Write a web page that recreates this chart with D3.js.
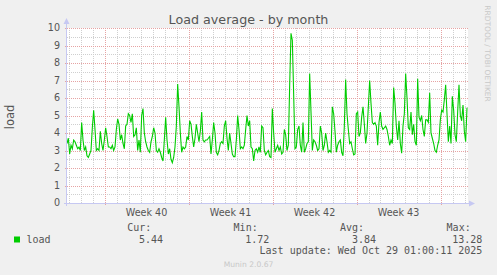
<!DOCTYPE html>
<html>
<head>
<meta charset="utf-8">
<script src="https://cdn.jsdelivr.net/npm/d3@7"></script>
<style>
    body { margin: 0; background: #f0f0f0; }
    svg { display: block; }
    .sans { font-family: 'DejaVu Sans', sans-serif; }
    .mono { font-family: 'DejaVu Sans Mono', monospace; }
</style>
</head>
<body>
<div id="vis"></div>
<script>
'use strict';

//first and last sample of the series, 160 min apart
var firstSample = Date.UTC(2025, 8, 25, 21, 0);
var lastSample = Date.UTC(2025, 9, 29, 5, 0);

//load average
var loadWeek39 = [3.4, 3.7, 2.8, 3.3, 3.1, 3.6, 3.5, 3.3, 3.1, 3.2, 3.0, 4.6, 3.6, 3.0, 3.2, 2.7, 2.6,
    2.8, 3.0, 4.3, 5.3, 4.2, 3.0, 3.1, 3.0, 4.1, 3.4, 3.0, 3.6, 4.3, 3.8, 3.2, 3.2, 3.1, 3.3, 3.0,
    3.2, 4.2, 4.8, 4.5, 3.6, 3.9, 3.4, 3.1, 4.4, 4.5, 5.1, 5.0, 4.6, 5.1, 3.8];
var loadWeek40 = [3.9, 4.3, 3.0, 3.6, 2.9, 5.0, 5.4, 4.0, 3.5, 3.2, 3.0, 2.9, 3.5, 3.8, 4.3, 4.0, 3.0,
    2.9, 3.1, 2.9, 2.6, 2.4, 3.6, 4.9, 3.6, 2.8, 3.1, 2.5, 2.3, 2.6, 3.2, 4.4, 6.8, 5.5, 4.0, 2.9,
    3.2, 3.1, 3.2, 3.8, 3.6, 4.7, 4.5, 3.8, 3.2, 3.7, 4.5, 4.0, 3.5, 4.1, 5.2];
var loadWeek41 = [3.6, 3.5, 3.6, 3.6, 3.7, 3.8, 2.8, 3.6, 4.6, 4.0, 2.9, 2.75, 3.0, 3.4, 3.5, 3.4, 4.4,
    4.7, 3.7, 3.0, 4.0, 3.4, 2.8, 2.65, 2.65, 3.6, 5.0, 4.2, 3.1, 3.2, 3.1, 3.3, 4.2, 5.0, 4.4, 4.7,
    3.2, 3.1, 2.4, 3.0, 3.1, 2.9, 3.2, 2.9, 4.4, 4.3, 3.0, 2.75, 2.9, 3.0, 2.65];
var loadWeek42 = [2.6, 5.4, 4.0, 2.9, 3.1, 3.3, 3.0, 3.2, 2.8, 2.9, 4.2, 3.9, 3.0, 3.3, 6.7, 9.7, 9.3,
    6.2, 3.1, 3.2, 4.2, 4.4, 3.3, 2.9, 4.6, 2.9, 3.1, 3.4, 3.5, 7.4, 5.2, 3.0, 3.6, 3.5, 3.3, 3.0,
    3.1, 4.4, 4.0, 3.0, 3.3, 4.0, 3.5, 2.9, 3.0, 2.9, 5.5, 5.1, 4.1, 2.9, 3.3];
var loadWeek43 = [3.5, 3.6, 2.9, 2.7, 4.4, 7.05, 5.1, 4.2, 3.4, 3.5, 3.1, 2.75, 2.8, 5.1, 5.2, 3.8, 4.0,
    4.9, 5.5, 4.5, 3.4, 4.0, 5.5, 7.0, 5.7, 4.6, 4.5, 4.6, 4.4, 3.3, 4.6, 5.2, 4.4, 4.2, 4.3, 4.4,
    4.2, 3.8, 3.3, 3.6, 3.4, 6.6, 5.7, 4.4, 3.6, 4.7, 3.4, 2.85, 4.4, 5.1, 7.4];
var loadWeek44 = [6.0, 4.3, 4.2, 5.2, 3.9, 4.5, 3.5, 3.3, 7.1, 4.9, 4.7, 5.0, 4.2, 3.8, 4.75, 4.75, 4.6,
    6.3, 4.0, 3.7, 3.4, 3.0, 2.9, 3.3, 3.6, 4.75, 5.3, 5.2, 5.9, 6.75, 5.1, 3.5, 4.4, 3.4, 6.1, 5.3,
    3.9, 3.5, 5.2, 6.75, 5.0, 4.7, 5.6, 4.1, 3.5, 5.44];

//axis labels and legend
var weekLabels = ['Week 40', 'Week 41', 'Week 42', 'Week 43'];
var weekStarts = [Date.UTC(2025, 8, 29), Date.UTC(2025, 9, 6), Date.UTC(2025, 9, 13), Date.UTC(2025, 9, 20)];
var yTicks = [0, 1, 2, 3, 4, 5, 6, 7, 8, 9, 10];
var legendHeads = ['Cur:', 'Min:', 'Avg:', 'Max:'];
var legendValues = ['5.44', '1.72', '3.84', '13.28'];

//layout
var width = 497, height = 275;
var plot = { left: 67, right: 467, top: 28, bottom: 203 };
var colors = {
    bg: '#f0f0f0', text: '#555555', faint: '#c8c8c8', line: '#00cc00',
    major: '#e6a3a3', minor: '#cfcfcf', axis: '#c6c8f2'
};

var loadValues = [].concat(loadWeek39, loadWeek40, loadWeek41, loadWeek42, loadWeek43, loadWeek44);
var step = (lastSample - firstSample) / (loadValues.length - 1);
var series = loadValues.map(function (v, i) {
    return { t: new Date(firstSample + i * step), v: v };
});

var x = d3.scaleUtc().domain([firstSample, lastSample]).range([plot.left, plot.right]);
var y = d3.scaleLinear().domain([0, 10]).range([plot.bottom, plot.top]);

var svg = d3.select('#vis')
    .append('svg')
    .attr('width', width)
    .attr('height', height);

svg.append('rect')
    .attr('width', width)
    .attr('height', height)
    .attr('fill', colors.bg);
svg.append('rect')
    .attr('x', plot.left)
    .attr('y', plot.top)
    .attr('width', plot.right - plot.left + 1)
    .attr('height', plot.bottom - plot.top)
    .attr('fill', '#ffffff');

//grid: days and half units minor, weeks and units major
var grid = svg.append('g').attr('shape-rendering', 'crispEdges');
var days = d3.utcDay.range(x.domain()[0], x.domain()[1]);
var weeks = d3.utcMonday.range(x.domain()[0], x.domain()[1]);
var halves = d3.range(0.5, 10, 1);

grid.selectAll('.minor-x')
    .data(days)
    .enter()
    .append('line')
    .attr('x1', function (d) { return Math.round(x(d)) + 0.5; })
    .attr('x2', function (d) { return Math.round(x(d)) + 0.5; })
    .attr('y1', plot.top)
    .attr('y2', plot.bottom)
    .attr('stroke', colors.minor)
    .attr('stroke-dasharray', '1,1');
grid.selectAll('.minor-y')
    .data(halves)
    .enter()
    .append('line')
    .attr('x1', plot.left)
    .attr('x2', plot.right + 1)
    .attr('y1', function (d) { return Math.round(y(d)) + 0.5; })
    .attr('y2', function (d) { return Math.round(y(d)) + 0.5; })
    .attr('stroke', colors.minor)
    .attr('stroke-dasharray', '1,1');
grid.selectAll('.major-x')
    .data(weeks)
    .enter()
    .append('line')
    .attr('x1', function (d) { return Math.round(x(d)) + 0.5; })
    .attr('x2', function (d) { return Math.round(x(d)) + 0.5; })
    .attr('y1', plot.top)
    .attr('y2', plot.bottom + 3)
    .attr('stroke', colors.major)
    .attr('stroke-dasharray', '1,1');
grid.selectAll('.major-y')
    .data(yTicks)
    .enter()
    .append('line')
    .attr('x1', plot.left - 2)
    .attr('x2', plot.right + 1)
    .attr('y1', function (d) { return Math.round(y(d)) + 0.5; })
    .attr('y2', function (d) { return Math.round(y(d)) + 0.5; })
    .attr('stroke', colors.major)
    .attr('stroke-dasharray', '1,1');

//load line
var line = d3.line()
    .x(function (d) { return x(d.t); })
    .y(function (d) { return y(d.v); });
svg.append('path')
    .datum(series)
    .attr('d', line)
    .attr('fill', 'none')
    .attr('stroke', colors.line)
    .attr('stroke-width', 1.1);

//axes with arrows
var axisG = svg.append('g').attr('shape-rendering', 'crispEdges');
axisG.append('line')
    .attr('x1', plot.left - 0.5)
    .attr('x2', plot.left - 0.5)
    .attr('y1', plot.bottom + 3)
    .attr('y2', plot.top - 6)
    .attr('stroke', colors.axis);
axisG.append('line')
    .attr('x1', plot.left - 3)
    .attr('x2', plot.right + 3)
    .attr('y1', plot.bottom + 0.5)
    .attr('y2', plot.bottom + 0.5)
    .attr('stroke', colors.axis);
svg.append('path')
    .attr('d', d3.line()([[plot.left - 3.5, plot.top - 4], [plot.left - 0.5, plot.top - 10], [plot.left + 2.5, plot.top - 4]]) + 'Z')
    .attr('fill', colors.axis);
svg.append('path')
    .attr('d', d3.line()([[plot.right + 2, plot.bottom - 2.5], [plot.right + 8, plot.bottom + 0.5], [plot.right + 2, plot.bottom + 3.5]]) + 'Z')
    .attr('fill', colors.axis);

//y tick labels
svg.selectAll('.y-label')
    .data(yTicks)
    .enter()
    .append('text')
    .attr('x', 60)
    .attr('y', function (d) { return y(d); })
    .attr('dy', '0.36em')
    .attr('text-anchor', 'end')
    .attr('class', 'sans')
    .attr('font-size', 9.6)
    .attr('fill', colors.text)
    .text(function (d) { return d; });

//week labels, centred in each week
svg.selectAll('.x-label')
    .data(weekStarts)
    .enter()
    .append('text')
    .attr('x', function (d) { return x(d3.utcHour.offset(d, 84)); })
    .attr('y', 215.5)
    .attr('text-anchor', 'middle')
    .attr('class', 'sans')
    .attr('font-size', 9.6)
    .attr('fill', colors.text)
    .text(function (d, i) { return weekLabels[i]; });

//titles
svg.append('text')
    .attr('x', width / 2)
    .attr('y', 24)
    .attr('text-anchor', 'middle')
    .attr('class', 'sans')
    .attr('font-size', 12.7)
    .attr('fill', colors.text)
    .text('Load average - by month');
svg.append('text')
    .attr('transform', 'translate(14, 117) rotate(-90)')
    .attr('text-anchor', 'middle')
    .attr('class', 'sans')
    .attr('font-size', 11.5)
    .attr('fill', colors.text)
    .text('load');
svg.append('text')
    .attr('transform', 'translate(485, 53.5) rotate(90)')
    .attr('text-anchor', 'middle')
    .attr('class', 'sans')
    .attr('font-size', 7.5)
    .attr('fill', colors.faint)
    .text('RRDTOOL / TOBI OETIKER');

//legend
svg.append('rect')
    .attr('x', 14)
    .attr('y', 236.5)
    .attr('width', 6)
    .attr('height', 6)
    .attr('fill', colors.line);
svg.append('text')
    .attr('x', 26.5)
    .attr('y', 242.7)
    .attr('class', 'mono')
    .attr('font-size', 10)
    .attr('fill', colors.text)
    .text('load');

var headEnds = [151.3, 257.7, 364, 470.7];
var valueEnds = [163, 269.3, 376, 482.3];
_each(legendHeads, function (d, i) {
    svg.append('text')
        .attr('x', headEnds[i])
        .attr('y', 230.7)
        .attr('text-anchor', 'end')
        .attr('class', 'mono')
        .attr('font-size', 10)
        .attr('fill', colors.text)
        .text(d);
    svg.append('text')
        .attr('x', valueEnds[i])
        .attr('y', 242.7)
        .attr('text-anchor', 'end')
        .attr('class', 'mono')
        .attr('font-size', 10)
        .attr('fill', colors.text)
        .text(legendValues[i]);
});

svg.append('text')
    .attr('x', 482.3)
    .attr('y', 254.3)
    .attr('text-anchor', 'end')
    .attr('class', 'mono')
    .attr('font-size', 10)
    .attr('fill', colors.text)
    .text('Last update: Wed Oct 29 01:00:11 2025');
svg.append('text')
    .attr('x', width / 2)
    .attr('y', 267)
    .attr('text-anchor', 'middle')
    .attr('class', 'sans')
    .attr('font-size', 7.6)
    .attr('fill', colors.faint)
    .text('Munin 2.0.67');

function _each(arr, fn) {
    arr.forEach(fn);
}
</script>
</body>
</html>
